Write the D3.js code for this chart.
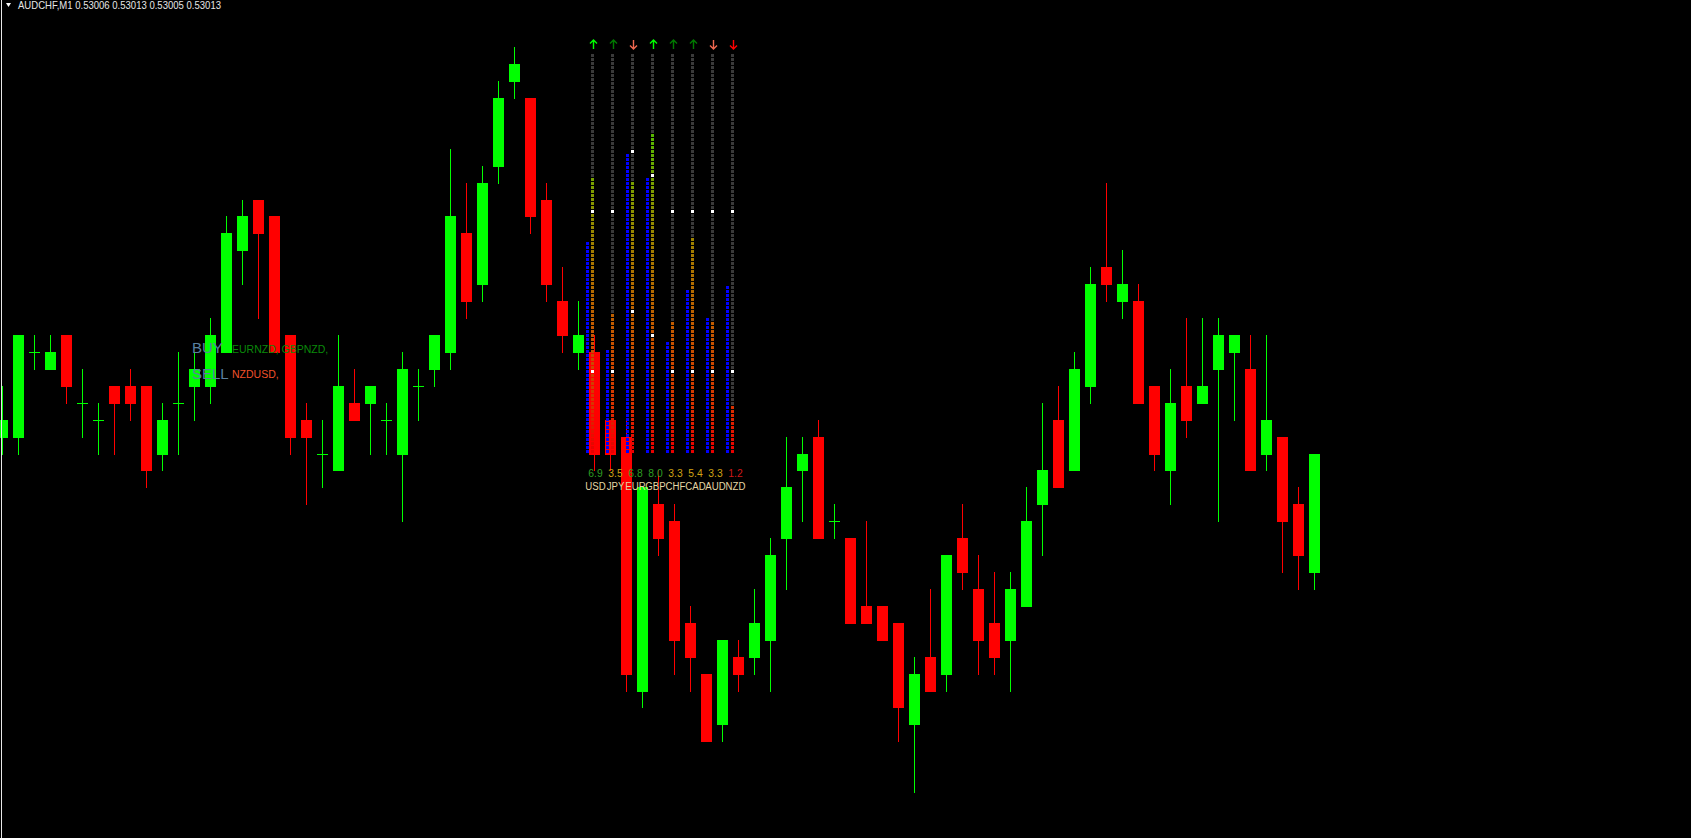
<!DOCTYPE html>
<html>
<head>
<meta charset="utf-8">
<script src="https://cdn.jsdelivr.net/npm/d3@7/dist/d3.min.js"></script>
<style>
  html, body { margin: 0; padding: 0; background: #000; overflow: hidden; }
  svg { display: block; }
</style>
</head>
<body>
<script>
// AUDCHF M1 bars, oldest first
const symbol = 'AUDCHF,M1'
const barOpen = [
  0.53014, 0.53014, 0.53019, 0.53018, 0.53020, 0.53016, 0.53015, 0.53017, 0.53017, 0.53017,
  0.53013, 0.53016, 0.53017, 0.53017, 0.53019, 0.53025, 0.53028, 0.53027, 0.53020, 0.53015,
  0.53013, 0.53012, 0.53016, 0.53016, 0.53015, 0.53013, 0.53017, 0.53018, 0.53019, 0.53026,
  0.53023, 0.53030, 0.53035, 0.53034, 0.53028, 0.53022, 0.53019, 0.53019, 0.53015, 0.53014,
  0.52999, 0.53010, 0.53009, 0.53003, 0.53000, 0.52997, 0.53001, 0.53001, 0.53002, 0.53008,
  0.53012, 0.53014, 0.53009, 0.53008, 0.53004, 0.53004, 0.53003, 0.52997, 0.53001, 0.53000,
  0.53008, 0.53005, 0.53003, 0.53002, 0.53004, 0.53010, 0.53015, 0.53012, 0.53017, 0.53024,
  0.53022, 0.53022, 0.53017, 0.53012, 0.53017, 0.53016, 0.53018, 0.53019, 0.53018, 0.53013,
  0.53014, 0.53010, 0.53006
]
const barHigh = [
  0.53017, 0.53020, 0.53020, 0.53020, 0.53020, 0.53018, 0.53016, 0.53017, 0.53018, 0.53017,
  0.53016, 0.53019, 0.53019, 0.53021, 0.53027, 0.53028, 0.53028, 0.53027, 0.53020, 0.53016,
  0.53015, 0.53020, 0.53018, 0.53017, 0.53016, 0.53019, 0.53018, 0.53020, 0.53031, 0.53029,
  0.53030, 0.53035, 0.53037, 0.53034, 0.53029, 0.53024, 0.53022, 0.53020, 0.53015, 0.53015,
  0.53011, 0.53012, 0.53010, 0.53004, 0.53000, 0.53002, 0.53002, 0.53005, 0.53008, 0.53014,
  0.53014, 0.53015, 0.53010, 0.53008, 0.53009, 0.53004, 0.53003, 0.53001, 0.53005, 0.53007,
  0.53010, 0.53007, 0.53006, 0.53006, 0.53011, 0.53016, 0.53017, 0.53019, 0.53024, 0.53029,
  0.53025, 0.53023, 0.53017, 0.53018, 0.53021, 0.53021, 0.53021, 0.53020, 0.53020, 0.53020,
  0.53014, 0.53011, 0.53013
]
const barLow = [
  0.53013, 0.53013, 0.53018, 0.53018, 0.53016, 0.53014, 0.53013, 0.53013, 0.53015, 0.53011,
  0.53012, 0.53013, 0.53015, 0.53016, 0.53019, 0.53023, 0.53021, 0.53019, 0.53013, 0.53010,
  0.53011, 0.53012, 0.53015, 0.53013, 0.53013, 0.53009, 0.53015, 0.53017, 0.53018, 0.53021,
  0.53022, 0.53029, 0.53034, 0.53026, 0.53022, 0.53019, 0.53018, 0.53012, 0.53012, 0.52999,
  0.52998, 0.53007, 0.53000, 0.52999, 0.52996, 0.52996, 0.52999, 0.53000, 0.52999, 0.53005,
  0.53009, 0.53008, 0.53008, 0.53003, 0.53003, 0.53002, 0.52996, 0.52993, 0.52999, 0.52999,
  0.53005, 0.53000, 0.53000, 0.52999, 0.53004, 0.53007, 0.53011, 0.53012, 0.53016, 0.53022,
  0.53021, 0.53016, 0.53012, 0.53010, 0.53014, 0.53016, 0.53009, 0.53015, 0.53012, 0.53012,
  0.53006, 0.53005, 0.53005
]
const barClose = [
  0.53015, 0.53020, 0.53019, 0.53019, 0.53017, 0.53016, 0.53015, 0.53016, 0.53016, 0.53012,
  0.53015, 0.53016, 0.53018, 0.53020, 0.53026, 0.53027, 0.53026, 0.53019, 0.53014, 0.53014,
  0.53013, 0.53017, 0.53015, 0.53017, 0.53015, 0.53018, 0.53017, 0.53020, 0.53027, 0.53022,
  0.53029, 0.53034, 0.53036, 0.53027, 0.53023, 0.53020, 0.53020, 0.53013, 0.53013, 0.53000,
  0.53011, 0.53008, 0.53002, 0.53001, 0.52996, 0.53002, 0.53000, 0.53003, 0.53007, 0.53011,
  0.53013, 0.53008, 0.53009, 0.53003, 0.53003, 0.53002, 0.52998, 0.53000, 0.52999, 0.53007,
  0.53006, 0.53002, 0.53001, 0.53005, 0.53009, 0.53012, 0.53011, 0.53018, 0.53023, 0.53023,
  0.53023, 0.53016, 0.53013, 0.53016, 0.53015, 0.53017, 0.53020, 0.53020, 0.53012, 0.53015,
  0.53009, 0.53007, 0.53013
]

// currency strength meter
const currencies = ['USD', 'JPY', 'EUR', 'GBP', 'CHF', 'CAD', 'AUD', 'NZD']
const strength = [6.9, 3.5, 6.8, 8.0, 3.3, 5.4, 3.3, 1.2]
const blueCells = [53, 26, 75, 69, 28, 41, 34, 42]
const markHigh = [60, 60, 75, 69, 60, 60, 60, 60]
const markLow = [20, 20, 35, 29, 20, 20, 20, 20]
const trend = [2, 1, -1, 2, 1, 1, -1, -2]
const buyPairs = ['EURNZD', 'GBPNZD']
const sellPairs = ['NZDUSD']

const W = 1691
const H = 838
const bull = '#00ff00'
const bear = '#ff0000'

const svg = d3.select('body').append('svg')
  .attr('width', W)
  .attr('height', H)
  .style('background', '#000')

svg.append('rect').attr('width', W).attr('height', H).attr('fill', '#000')

const n = barOpen.length
const x = d3.scaleLinear().domain([0, n - 1]).range([2.5, 2.5 + 16 * (n - 1)])
const y = d3.scaleLinear().domain([0.52993, 0.53037]).range([792.1, 47.2])
const py = v => Math.round(y(v))

const bars = d3.range(n).map(i => ({
  i, o: barOpen[i], h: barHigh[i], l: barLow[i], c: barClose[i]
}))
const barColor = d => d.c < d.o ? bear : bull

// candles
const chart = svg.append('g').attr('class', 'candles').attr('shape-rendering', 'crispEdges')

chart.selectAll('line.wick')
  .data(bars)
  .join('line')
  .attr('class', 'wick')
  .attr('x1', d => x(d.i))
  .attr('x2', d => x(d.i))
  .attr('y1', d => py(d.h))
  .attr('y2', d => py(d.l) + 1)
  .attr('stroke', barColor)
  .attr('stroke-width', 1)

chart.selectAll('rect.body')
  .data(bars.filter(d => d.o !== d.c))
  .join('rect')
  .attr('class', 'body')
  .attr('x', d => x(d.i) - 5.5)
  .attr('width', 11)
  .attr('y', d => py(Math.max(d.o, d.c)))
  .attr('height', d => py(Math.min(d.o, d.c)) - py(Math.max(d.o, d.c)) + 1)
  .attr('fill', barColor)

chart.selectAll('line.doji')
  .data(bars.filter(d => d.o === d.c))
  .join('line')
  .attr('class', 'doji')
  .attr('x1', d => x(d.i) - 5.5)
  .attr('x2', d => x(d.i) + 5.5)
  .attr('y1', d => py(d.o) + 0.5)
  .attr('y2', d => py(d.o) + 0.5)
  .attr('stroke', bull)

// left border of the chart window
svg.append('line')
  .attr('x1', 1.5).attr('x2', 1.5)
  .attr('y1', 0).attr('y2', H)
  .attr('stroke', '#e8e8e8')

// title
svg.append('path')
  .attr('d', 'M6,3 L11,3 L8.5,7 Z')
  .attr('fill', '#ffffff')
svg.append('text')
  .attr('x', 18)
  .attr('y', 8.5)
  .attr('fill', '#e6e6e6')
  .attr('font-family', 'Liberation Sans, Arial, sans-serif')
  .attr('font-size', 11)
  .attr('textLength', 203)
  .attr('lengthAdjust', 'spacingAndGlyphs')
  .text(`${symbol}  ${barOpen[n - 1].toFixed(5)} ${barHigh[n - 1].toFixed(5)} ${barLow[n - 1].toFixed(5)} ${barClose[n - 1].toFixed(5)}`)

// buy / sell signal text
const sig = svg.append('g').attr('font-family', 'Liberation Sans, Arial, sans-serif')
sig.append('text').attr('x', 192).attr('y', 353).attr('font-size', 15).attr('fill', '#5b80a0').text('BUY')
sig.append('text').attr('x', 192).attr('y', 379).attr('font-size', 15).attr('fill', '#5b80a0').text('SELL')
sig.append('text').attr('x', 232).attr('y', 353).attr('font-size', 10.5).attr('fill', '#0a8a0a')
  .text(buyPairs.map(p => p + ',').join(' '))
sig.append('text').attr('x', 232).attr('y', 378).attr('font-size', 10.5).attr('fill', '#f0502a')
  .text(sellPairs.map(p => p + ',').join(' '))

// strength meter
const meter = svg.append('g').attr('class', 'meter').attr('shape-rendering', 'crispEdges')
const col = d3.scaleLinear().domain([0, 1]).range([586, 606])
const cellTop = k => 450 - 4 * k
const grad = d3.scaleLinear()
  .domain([0, 12, 30, 48, 62, 75, 90])
  .range(['#e80000', '#d83400', '#c45800', '#a87800', '#889600', '#60b000', '#40cc00'])
const emptyCell = '#3a3a3a'

currencies.forEach((cur, i) => {
  const gx = col(i)
  const filled = Math.round(strength[i] * 10)
  meter.append('g')
    .selectAll('rect')
    .data(d3.range(100))
    .join('rect')
    .attr('x', gx + 5)
    .attr('y', k => cellTop(k))
    .attr('width', 3)
    .attr('height', 3)
    .attr('fill', k => (k === markHigh[i] || k === markLow[i]) ? '#ffffff' : (k < filled ? grad(k) : emptyCell))

  meter.append('g')
    .selectAll('rect')
    .data(d3.range(blueCells[i]))
    .join('rect')
    .attr('x', gx)
    .attr('y', k => cellTop(k))
    .attr('width', 3)
    .attr('height', 3)
    .attr('fill', '#0000ff')
})

const arrowColor = t => t === 2 ? '#00ff00' : t === 1 ? '#007a00' : t === -1 ? '#f06850' : '#ff0000'
const arrows = svg.append('g').attr('class', 'arrows')
arrows.selectAll('path')
  .data(trend)
  .join('path')
  .attr('d', (t, i) => {
    const cx = col(i) + 7.5
    if (t > 0) return `M${cx},40 L${cx},49 M${cx - 3.5},43.5 L${cx},40 L${cx + 3.5},43.5`
    return `M${cx},40 L${cx},49 M${cx - 3.5},45.5 L${cx},49 L${cx + 3.5},45.5`
  })
  .attr('fill', 'none')
  .attr('stroke', arrowColor)
  .attr('stroke-width', 1.4)

// values and names, drawn in a narrowed face like the terminal's
const numColor = v => v >= 6.5 ? '#2e9e22' : v >= 2 ? '#d2a414' : '#d01818'
const labels = svg.append('g').attr('font-family', 'Liberation Sans, Arial, sans-serif').attr('text-anchor', 'middle')
labels.selectAll('text.val')
  .data(strength)
  .join('text')
  .attr('class', 'val')
  .attr('transform', (v, i) => `translate(${col(i) + 9.5},477) scale(0.9,1)`)
  .attr('font-size', 11.5)
  .attr('fill', numColor)
  .text(v => v.toFixed(1))

labels.selectAll('text.cur')
  .data(currencies)
  .join('text')
  .attr('class', 'cur')
  .attr('transform', (c, i) => `translate(${col(i) + 9.5},490) scale(0.84,1)`)
  .attr('font-size', 11.5)
  .attr('fill', '#e4d6a4')
  .text(c => c)
</script>
</body>
</html>
